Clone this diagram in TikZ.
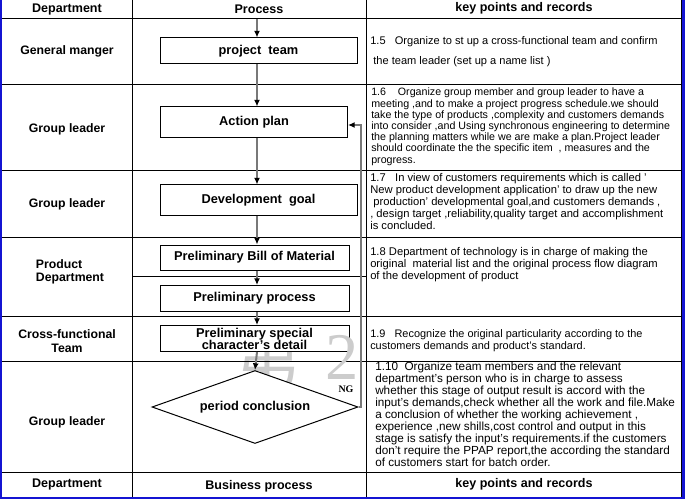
\documentclass[tikz,border=0pt]{standalone}
\usepackage{fontspec}
\setmainfont{Liberation Sans}
\newfontfamily\cjk{Noto Sans CJK SC}
\newfontfamily\serifnum{Liberation Serif}
\usetikzlibrary{arrows.meta,shapes.geometric}
\definecolor{bordblue}{RGB}{20,20,210}
\definecolor{flowgray}{RGB}{120,120,120}
\begin{document}
\begin{tikzpicture}[x=0.75pt,y=-0.75pt,
  gridline/.style={black,line width=0.75pt},
  blueline/.style={bordblue,line width=1.5pt},
  procbox/.style={draw=black,fill=white,line width=0.75pt,inner sep=0pt,
    font=\bfseries\fontsize{9.6}{10}\selectfont,align=center},
  decision/.style={diamond,draw=black,fill=white,line width=0.75pt,inner sep=0pt,aspect=2.8,
    minimum width=154.5pt,minimum height=54.75pt,font=\bfseries\fontsize{9.6}{10}\selectfont},
  flow/.style={flowgray,line width=1.5pt,-{Latex[length=5pt,width=4.5pt,color=black]}},
  head/.style={font=\bfseries\fontsize{9.4}{10}\selectfont},
  dept/.style={font=\bfseries\fontsize{9.2}{10}\selectfont,align=center},
  note/.style={anchor=north west,align=left,inner sep=0pt},
  wmark/.style={gray!40}
]
\useasboundingbox (0,0) rectangle (685,499);
\fill[white] (0,0) rectangle (685,499);

% watermark (behind)
\node[wmark,font=\cjk\fontsize{50}{50}\selectfont] (wm1) at (268,358) {第};

% grid
\foreach \yy in {19,85,171,237,316,361,472}
  \draw[gridline] (1,\yy) -- (681,\yy);
\draw[gridline] (132,276) -- (366,276);
\draw[gridline] (132,0) -- (132,497);
\draw[gridline] (366,0) -- (366,497);
\draw[gridline] (681,0) -- (681,497);
\draw[blueline] (1,0) -- (1,497);
\draw[bordblue,line width=2.2pt] (683.5,0) -- (683.5,499);
\draw[blueline] (0,497.5) -- (685,497.5);

% headers
\node[head] (h1) at (67,9) {Department};
\node[head] (h2) at (259,9) {Process};
\node[head] (h3) at (524,8) {key points and records};
\node[head] (f1) at (67,484) {Department};
\node[head] (f2) at (259,486) {Business process};
\node[head] (f3) at (524,484) {key points and records};

% departments
\node[dept] (d1) at (67,51) {General manger};
\node[dept] (d2) at (67,129) {Group leader};
\node[dept] (d3) at (67,204) {Group leader};
\node[dept,align=left] (d4) at (70,272) {Product\\Department};
\node[dept] (d5) at (67,341) {Cross-functional\\Team};
\node[dept] (d6) at (67,422) {Group leader};

% process
\coordinate (start) at (257,19);
\node[procbox,minimum width=147.75pt,minimum height=19.5pt] (p1) at (258.5,51) {project\ \ team};
\node[procbox,minimum width=140.25pt,minimum height=23.25pt] (p2) at (254,122.5) {Action plan};
\node[procbox,minimum width=147.75pt,minimum height=22.5pt] (p3) at (258.5,200) {Development\ \ goal};
\node[procbox,minimum width=141.75pt,minimum height=18.75pt] (p4) at (254.5,257.5) {Preliminary Bill of Material};
\node[procbox,minimum width=141.75pt,minimum height=19.5pt] (p5) at (254.5,298.5) {Preliminary process};
\node[procbox,minimum width=141.75pt,minimum height=19.5pt,font=\bfseries\fontsize{9.6}{9}\selectfont] (p6) at (254.5,338.5) {Preliminary special\\character's detail};
\node[decision] (dc) at (255,407) {period conclusion};

\draw[flow] (start) -- (start|-p1.north);
\draw[flow] (p1.south-|start) -- (start|-p2.north);
\draw[flow] (p2.south-|start) -- (start|-p3.north);
\draw[flow] (p3.south-|start) -- (start|-p4.north);
\draw[flow] (p4.south-|start) -- (start|-p5.north);
\draw[flow] (p5.south-|start) -- (start|-p6.north);
\draw[flow] (p6.south-|start) -- (dc.north);
\coordinate (ngc) at (361,125);
\draw[flow] (dc.east) -- (dc.east-|ngc) -- (ngc) -- (p2.east|-ngc);
\node[font=\serifnum\bfseries\fontsize{7.5}{8}\selectfont] (ng) at (346,389) {NG};

% watermark (front)
\node[wmark,font=\serifnum\fontsize{50}{50}\selectfont] (wm2) at (342,357) {2};

% notes
\node[note,font=\fontsize{8.3}{15}\selectfont] (n1) at (370,36) {1.5\ \ \ Organize to st up a cross-functional team and confirm\\\ the team leader (set up a name list )};
\node[note,font=\fontsize{8}{8.4}\selectfont] (n2) at (371,88) {1.6\ \ \ \ Organize group member and group leader to have a\\meeting ,and to make a project progress schedule.we should\\take the type of products ,complexity and customers demands\\into consider ,and Using synchronous engineering to determine\\the planning matters while we are make a plan.Project leader\\should coordinate the the specific item\ \ , measures and the\\progress.};
\node[note,font=\fontsize{8.4}{9}\selectfont] (n3) at (370,173) {1.7\ \ \ In view of customers requirements which is called '\\New product development application' to draw up the new\\\ production' developmental goal,and customers demands ,\\, design target ,reliability,quality target and accomplishment\\is concluded.};
\node[note,font=\fontsize{8.4}{9}\selectfont] (n4) at (370,247) {1.8 Department of technology is in charge of making the\\original\ \ material list and the original process flow diagram\\of the development of product};
\node[note,font=\fontsize{8.2}{9.5}\selectfont] (n5) at (370,329) {1.9\ \ \ Recognize the original particularity according to the\\customers demands and product's standard.};
\node[note,font=\fontsize{8.8}{9}\selectfont] (n6) at (375,362) {1.10\ \ Organize team members and the relevant\\department's person who is in charge to assess\\whether this stage of output result is accord with the\\input's demands,check whether all the work and file.Make\\a conclusion of whether the working achievement ,\\experience ,new shills,cost control and output in this\\stage is satisfy the input's requirements.if the customers\\don't require the PPAP report,the according the standard\\of customers start for batch order.};
\end{tikzpicture}
\end{document}
